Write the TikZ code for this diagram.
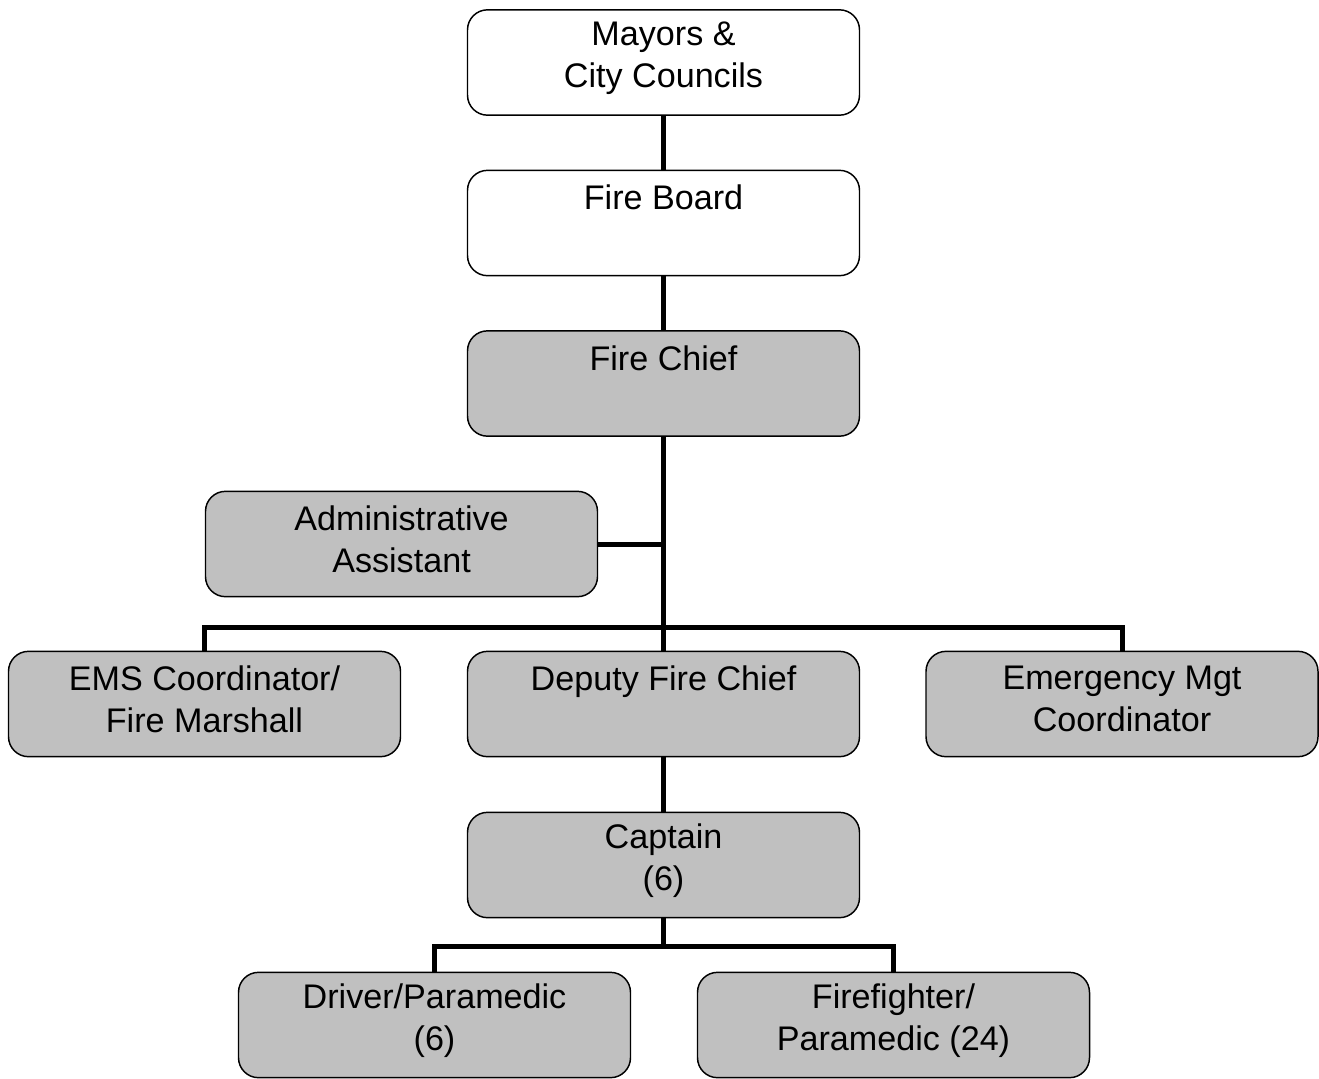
\documentclass[tikz,border=0pt]{standalone}
\usepackage{fontspec}
\setmainfont{Liberation Sans}
\definecolor{boxgray}{RGB}{192,192,192}
\begin{document}
\begin{tikzpicture}[x=0.75pt, y=-0.75pt,
  orgbox/.style={draw=black, line width=1.1pt, rounded corners=15pt,
    minimum width=294pt, minimum height=79pt, inner sep=0pt},
  whitebox/.style={orgbox, fill=white},
  graybox/.style={orgbox, fill=boxgray},
  boxtext/.style={inner sep=0pt, align=center, yshift=3.5pt,
    font=\fontsize{25.6pt}{31.5pt}\selectfont},
  link/.style={line width=3.75pt}]
  \useasboundingbox (0,0) rectangle (1319,1078);
  \clip (0,0) rectangle (1319,1078);

  % boxes
  \node[whitebox] (mayor)   at (663.5,62.5)  {};
  \node[whitebox] (board)   at (663.5,223)   {};
  \node[graybox]  (chief)   at (663.5,383.5) {};
  \node[graybox]  (admin)   at (401.5,544)   {};
  \node[graybox]  (ems)     at (204.5,704)   {};
  \node[graybox]  (deputy)  at (663.5,704)   {};
  \node[graybox]  (emerg)   at (1122,704)    {};
  \node[graybox]  (captain) at (663.5,865)   {};
  \node[graybox]  (driver)  at (434.5,1025)  {};
  \node[graybox]  (ff)      at (893.5,1025)  {};

  % box texts
  \node[boxtext] (mayor-t)   at (mayor)   {Mayors \&\\City Councils};
  \node[boxtext] (board-t)   at (board)   {Fire Board\\\mbox{}};
  \node[boxtext] (chief-t)   at (chief)   {Fire Chief\\\mbox{}};
  \node[boxtext] (admin-t)   at (admin)   {Administrative\\Assistant};
  \node[boxtext] (ems-t)     at (ems)     {EMS Coordinator/\\Fire Marshall};
  \node[boxtext] (deputy-t)  at (deputy)  {Deputy Fire Chief\\\mbox{}};
  \node[boxtext] (emerg-t)   at (emerg)   {Emergency Mgt\\Coordinator};
  \node[boxtext] (captain-t) at (captain) {Captain\\(6)};
  \node[boxtext] (driver-t)  at (driver)  {Driver/Paramedic\\(6)};
  \node[boxtext] (ff-t)      at (ff)      {Firefighter/\\Paramedic (24)};

  % bus lines
  \coordinate (bus1) at (663.5,627);
  \coordinate (bus2) at (663.5,946);

  % connectors
  \draw[link] (mayor.south) -- (board.north);
  \draw[link] (board.south) -- (chief.north);
  \draw[link] (chief.south) -- (deputy.north);
  \draw[link] (admin.east) -- (admin.east -| chief.south);
  \draw[link] (ems.north) -- (ems.north |- bus1) -- (emerg.north |- bus1) -- (emerg.north);
  \draw[link] (deputy.south) -- (captain.north);
  \draw[link] (captain.south) -- (bus2);
  \draw[link] (driver.north) -- (driver.north |- bus2) -- (ff.north |- bus2) -- (ff.north);
\end{tikzpicture}
\end{document}
